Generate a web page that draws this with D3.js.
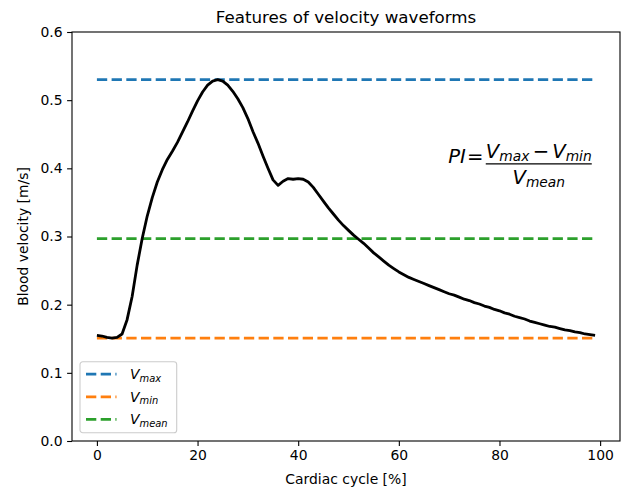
<!DOCTYPE html>
<html>
<head>
<meta charset="utf-8">
<script src="https://cdn.jsdelivr.net/npm/d3@7"></script>
<style>
  body { margin: 0; background: white; }
  text { font-family: "DejaVu Sans", sans-serif; fill: black; }
</style>
</head>
<body>
<div id="chart"></div>
<script>
const width = 627
const height = 489
const margin = { left: 72, right: 7, top: 32, bottom: 48 }

// blood velocity per percent of the cardiac cycle (0..99)
const velocity = [
  0.155, 0.154, 0.152, 0.151, 0.152, 0.157, 0.178, 0.212, 0.258, 0.297,
  0.330, 0.357, 0.380, 0.398, 0.413, 0.425, 0.438, 0.453, 0.468, 0.484,
  0.499, 0.512, 0.522, 0.528, 0.530, 0.528, 0.522, 0.513, 0.502, 0.489,
  0.473, 0.454, 0.437, 0.418, 0.400, 0.383, 0.375, 0.381, 0.385, 0.384,
  0.385, 0.384, 0.380, 0.372, 0.362, 0.352, 0.342, 0.333, 0.324, 0.316,
  0.309, 0.302, 0.296, 0.290, 0.283, 0.276, 0.270, 0.264, 0.258, 0.253,
  0.248, 0.244, 0.240, 0.237, 0.234, 0.231, 0.228, 0.225, 0.222, 0.219,
  0.216, 0.214, 0.211, 0.208, 0.206, 0.203, 0.201, 0.198, 0.196, 0.193,
  0.191, 0.188, 0.186, 0.183, 0.181, 0.179, 0.176, 0.174, 0.172, 0.170,
  0.168, 0.167, 0.165, 0.163, 0.162, 0.160, 0.159, 0.157, 0.156, 0.155
]

const featureNames = ['max', 'min', 'mean']
const featureValues = [0.530, 0.151, 0.297]
const featureColors = ['#1f77b4', '#ff7f0e', '#2ca02c']

const xTicks = [0, 20, 40, 60, 80, 100]
const yTicks = [0.0, 0.1, 0.2, 0.3, 0.4, 0.5, 0.6]

const data = velocity.map(function(v, i) { return { x: i, y: v } })
const xFirst = 0
const xLast = velocity.length - 1
const pad = (xLast - xFirst) * 0.05

const xScale = d3.scaleLinear()
  .domain([xFirst - pad, xLast + pad])
  .range([margin.left, width - margin.right])
const yScale = d3.scaleLinear()
  .domain([0, 0.6])
  .range([height - margin.bottom, margin.top])

const svg = d3.select('#chart').append('svg')
  .attr('width', width)
  .attr('height', height)

svg.append('rect')
  .attr('width', width)
  .attr('height', height)
  .attr('fill', 'white')

// feature lines
svg.append('g').selectAll('line')
  .data(featureValues)
  .join('line')
  .attr('x1', xScale(xFirst))
  .attr('x2', xScale(xLast))
  .attr('y1', function(d) { return yScale(d) })
  .attr('y2', function(d) { return yScale(d) })
  .attr('stroke', function(d, i) { return featureColors[i] })
  .attr('stroke-width', 2.8)
  .attr('stroke-dasharray', '10.3,4.4')

const valueline = d3.line()
  .x(function(d) { return xScale(d.x) })
  .y(function(d) { return yScale(d.y) })

svg.append('path')
  .datum(data)
  .attr('fill', 'none')
  .attr('stroke', 'black')
  .attr('stroke-width', 2.8)
  .attr('stroke-linejoin', 'round')
  .attr('d', valueline)

// axes
svg.append('g')
  .attr('transform', 'translate(0,' + (height - margin.bottom) + ')')
  .call(d3.axisBottom(xScale).tickValues(xTicks).tickSize(4.9).tickPadding(4.5).tickFormat(d3.format('d')))
svg.append('g')
  .attr('transform', 'translate(' + margin.left + ',0)')
  .call(d3.axisLeft(yScale).tickValues(yTicks).tickSize(4.9).tickPadding(4.5).tickFormat(d3.format('.1f')))

svg.selectAll('.domain').remove()
svg.selectAll('.tick line').attr('stroke', 'black').attr('stroke-width', 1.1)
svg.selectAll('.tick text')
  .attr('font-family', 'DejaVu Sans')
  .attr('font-size', 13.9)
  .attr('fill', 'black')

svg.append('rect')
  .attr('x', margin.left)
  .attr('y', margin.top)
  .attr('width', width - margin.left - margin.right)
  .attr('height', height - margin.top - margin.bottom)
  .attr('fill', 'none')
  .attr('stroke', 'black')
  .attr('stroke-width', 1.1)

// titles
svg.append('text')
  .attr('x', (margin.left + width - margin.right) / 2)
  .attr('y', 23)
  .attr('text-anchor', 'middle')
  .attr('font-size', 16.7)
  .text('Features of velocity waveforms')

svg.append('text')
  .attr('x', (margin.left + width - margin.right) / 2)
  .attr('y', 484)
  .attr('text-anchor', 'middle')
  .attr('font-size', 13.9)
  .text('Cardiac cycle [%]')

svg.append('text')
  .attr('transform', 'translate(28,' + ((margin.top + height - margin.bottom) / 2) + ') rotate(-90)')
  .attr('text-anchor', 'middle')
  .attr('font-size', 13.9)
  .text('Blood velocity [m/s]')

// legend
const legend = svg.append('g').attr('transform', 'translate(80,361.7)')
legend.append('rect')
  .attr('width', 96.7)
  .attr('height', 71)
  .attr('rx', 2.8)
  .attr('fill', 'white')
  .attr('fill-opacity', 0.8)
  .attr('stroke', '#cccccc')
  .attr('stroke-width', 1.1)

const rows = legend.selectAll('g.row')
  .data(featureNames)
  .join('g')
  .attr('class', 'row')
  .attr('transform', function(d, i) { return 'translate(0,' + (12.5 + i * 22.6) + ')' })
rows.append('line')
  .attr('x1', 6)
  .attr('x2', 36.5)
  .attr('stroke', function(d, i) { return featureColors[i] })
  .attr('stroke-width', 2.8)
  .attr('stroke-dasharray', '10.3,4.4')
const rowText = rows.append('text')
  .attr('x', 50)
  .attr('y', 5)
  .attr('font-size', 13.9)
  .attr('font-style', 'italic')
rowText.append('tspan').text('V')
rowText.append('tspan')
  .attr('dy', 2.4)
  .attr('font-size', 9.9)
  .text(function(d) { return d })

// pulsatility index formula
const fx = xScale(70)
const fy = yScale(0.4)
const formula = svg.append('g').attr('font-size', 19.6)
formula.append('text')
  .attr('x', fx - 1)
  .attr('y', fy - 5)
  .attr('font-style', 'italic')
  .text('PI')
formula.append('text')
  .attr('x', fx + 26)
  .attr('y', fy - 5)
  .attr('text-anchor', 'middle')
  .text('=')
formula.append('line')
  .attr('x1', fx + 36.6)
  .attr('x2', fx + 142.6)
  .attr('y1', fy - 4.5)
  .attr('y2', fy - 4.5)
  .attr('stroke', 'black')
  .attr('stroke-width', 1.1)

const numerator = formula.append('text')
  .attr('x', fx + 89.6)
  .attr('y', fy - 10.6)
  .attr('text-anchor', 'middle')
numerator.append('tspan').attr('font-style', 'italic').text('V')
numerator.append('tspan').attr('font-style', 'italic').attr('font-size', 13.8).attr('dy', 2.8).text(featureNames[0])
numerator.append('tspan').attr('dy', -2.8).attr('dx', 3.5).text('\u2212')
numerator.append('tspan').attr('font-style', 'italic').attr('dx', 3).text('V')
numerator.append('tspan').attr('font-style', 'italic').attr('font-size', 13.8).attr('dy', 2.8).text(featureNames[1])

const denominator = formula.append('text')
  .attr('x', fx + 89.6)
  .attr('y', fy + 16)
  .attr('text-anchor', 'middle')
denominator.append('tspan').attr('font-style', 'italic').text('V')
denominator.append('tspan').attr('font-style', 'italic').attr('font-size', 13.8).attr('dy', 2.8).text(featureNames[2])
</script>
</body>
</html>
